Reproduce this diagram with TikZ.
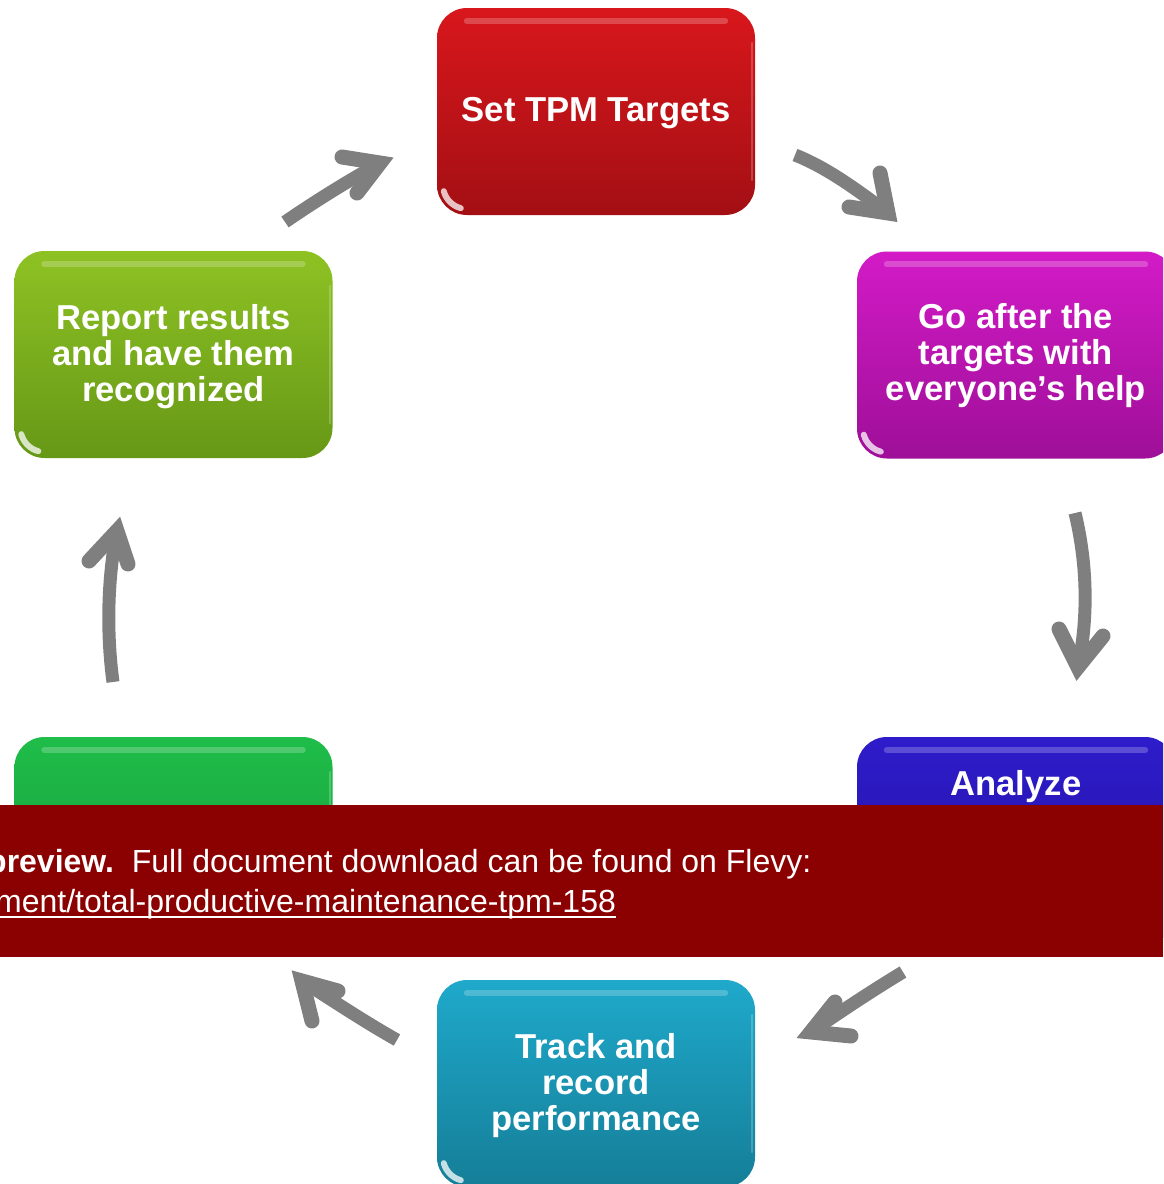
\documentclass[tikz,border=0pt]{standalone}
\usepackage{fontspec}
\setmainfont{Liberation Sans}
\usetikzlibrary{calc}
\definecolor{redT}{HTML}{D8171C}\definecolor{redB}{HTML}{A30F14}
\definecolor{magT}{HTML}{D31BC7}\definecolor{magB}{HTML}{9E0F98}
\definecolor{oliT}{HTML}{8EC223}\definecolor{oliB}{HTML}{669817}
\definecolor{grnT}{HTML}{1FBD49}\definecolor{grnB}{HTML}{17983A}
\definecolor{bluT}{HTML}{2E1CCB}\definecolor{bluB}{HTML}{22119E}
\definecolor{teaT}{HTML}{1FA9CB}\definecolor{teaB}{HTML}{157E98}
\definecolor{arrgray}{HTML}{7F7F7F}
\definecolor{bannerred}{HTML}{8B0000}
\tikzset{
  box/.style={rounded corners=30pt, minimum width=318pt, minimum height=207pt, inner sep=0pt},
  boxtext/.style={text=white, align=center, inner sep=0pt, font=\fontsize{34.6}{36}\selectfont\bfseries},
  shaft/.style={draw=arrgray, line width=13pt},
  head/.style={draw=arrgray, line width=15pt, line cap=round, line join=miter},
  gloss/.style={draw=white, line width=6pt, opacity=.22, line cap=round},
  edge/.style={draw=white, line width=2pt, opacity=.22, line cap=round},
  shine/.style={draw=white, line width=6pt, opacity=.75, line cap=round},
  bantext/.style={text=white, anchor=base west, inner sep=0pt, font=\fontsize{32}{38}\selectfont}
}
\newcommand{\glossy}[1]{%
  \draw[gloss] ($(#1.north west)+(30,13)$) -- ($(#1.north east)+(-30,13)$);
  \draw[edge] ($(#1.north east)+(-3,35)$) -- ($(#1.south east)+(-3,-35)$);
  \draw[shine] ($(#1.south west)+(7,-24)$) arc[start angle=195, end angle=255, radius=24pt];
}
\begin{document}
\begin{tikzpicture}[x=1pt,y=-1pt]
\useasboundingbox (0,0) rectangle (1163,1184);
\clip (0,0) rectangle (1163,1184);

% boxes
\node[box, top color=redT, bottom color=redB] (set) at (596,111.5) {};
\node[box, top color=magT, bottom color=magB] (go) at (1016,355) {};
\node[box, top color=oliT, bottom color=oliB] (rep) at (173.5,354.5) {};
\node[box, top color=grnT, bottom color=grnB] (grn) at (173.5,840.5) {};
\node[box, top color=bluT, bottom color=bluB] (ana) at (1016,840.5) {};
\node[box, top color=teaT, bottom color=teaB] (trk) at (596,1083.5) {};
\glossy{set}\glossy{go}\glossy{rep}\glossy{grn}\glossy{ana}\glossy{trk}

\node[boxtext] (settext) at ($(set.center)+(0,2)$) {Set TPM Targets};
\node[boxtext] (gotext) at ($(go.center)+(0,1)$) {Go after the\\targets with\\everyone’s help};
\node[boxtext] (reptext) at ($(rep.center)+(0,2)$) {Report results\\and have them\\recognized};
\node[boxtext] (anatext) at (1016,787) {Analyze};
\node[boxtext] (trktext) at ($(trk.center)+(0,2)$) {Track and\\record\\performance};

% arrows: tail, vertex, arm ends
\coordinate (a1t) at (285,222); \coordinate (a1v) at (380,163); \coordinate (a1a) at (342,157); \coordinate (a1b) at (357,193);
\draw[shaft] (a1t) .. controls (320,198) and (350,180) .. (a1v);
\draw[head] (a1a) -- (a1v) -- (a1b);

\coordinate (a2t) at (795,155); \coordinate (a2v) at (888,213); \coordinate (a2a) at (880,173); \coordinate (a2b) at (849,207);
\draw[shaft] (a2t) .. controls (828,168) and (860,192) .. (a2v);
\draw[head] (a2a) -- (a2v) -- (a2b);

\coordinate (a3t) at (1075,513); \coordinate (a3v) at (1078,667); \coordinate (a3a) at (1059,629); \coordinate (a3b) at (1103,636);
\draw[shaft] (a3t) .. controls (1090,575) and (1086,630) .. (a3v);
\draw[head] (a3a) -- (a3v) -- (a3b);

\coordinate (a4t) at (903,972); \coordinate (a4v) at (811,1032); \coordinate (a4a) at (835,1002); \coordinate (a4b) at (851,1036);
\draw[shaft] (a4t) .. controls (870,992) and (840,1012) .. (a4v);
\draw[head] (a4a) -- (a4v) -- (a4b);

\coordinate (a5t) at (397,1040); \coordinate (a5v) at (302,981); \coordinate (a5a) at (338,991); \coordinate (a5b) at (312,1021);
\draw[shaft] (a5t) .. controls (365,1022) and (335,1002) .. (a5v);
\draw[head] (a5a) -- (a5v) -- (a5b);

\coordinate (a6t) at (113,682); \coordinate (a6v) at (117,531); \coordinate (a6a) at (89,561); \coordinate (a6b) at (128,564);
\draw[shaft] (a6t) .. controls (106,630) and (108,575) .. (a6v);
\draw[head] (a6a) -- (a6v) -- (a6b);

% banner
\node[fill=bannerred, minimum width=1163pt, minimum height=152pt, inner sep=0pt, anchor=north west] (banner) at (0,805) {};
\node[bantext] (prev) at (-13,872) {\textbf{preview.}\ \ Full document download can be found on Flevy:};
\node[bantext] (link) at (-5,912) {ment/total-productive-maintenance-tpm-158};
\draw[white, line width=2pt] ($(link.base west)+(0,5)$) -- ($(link.base east)+(0,5)$);
\end{tikzpicture}
\end{document}
